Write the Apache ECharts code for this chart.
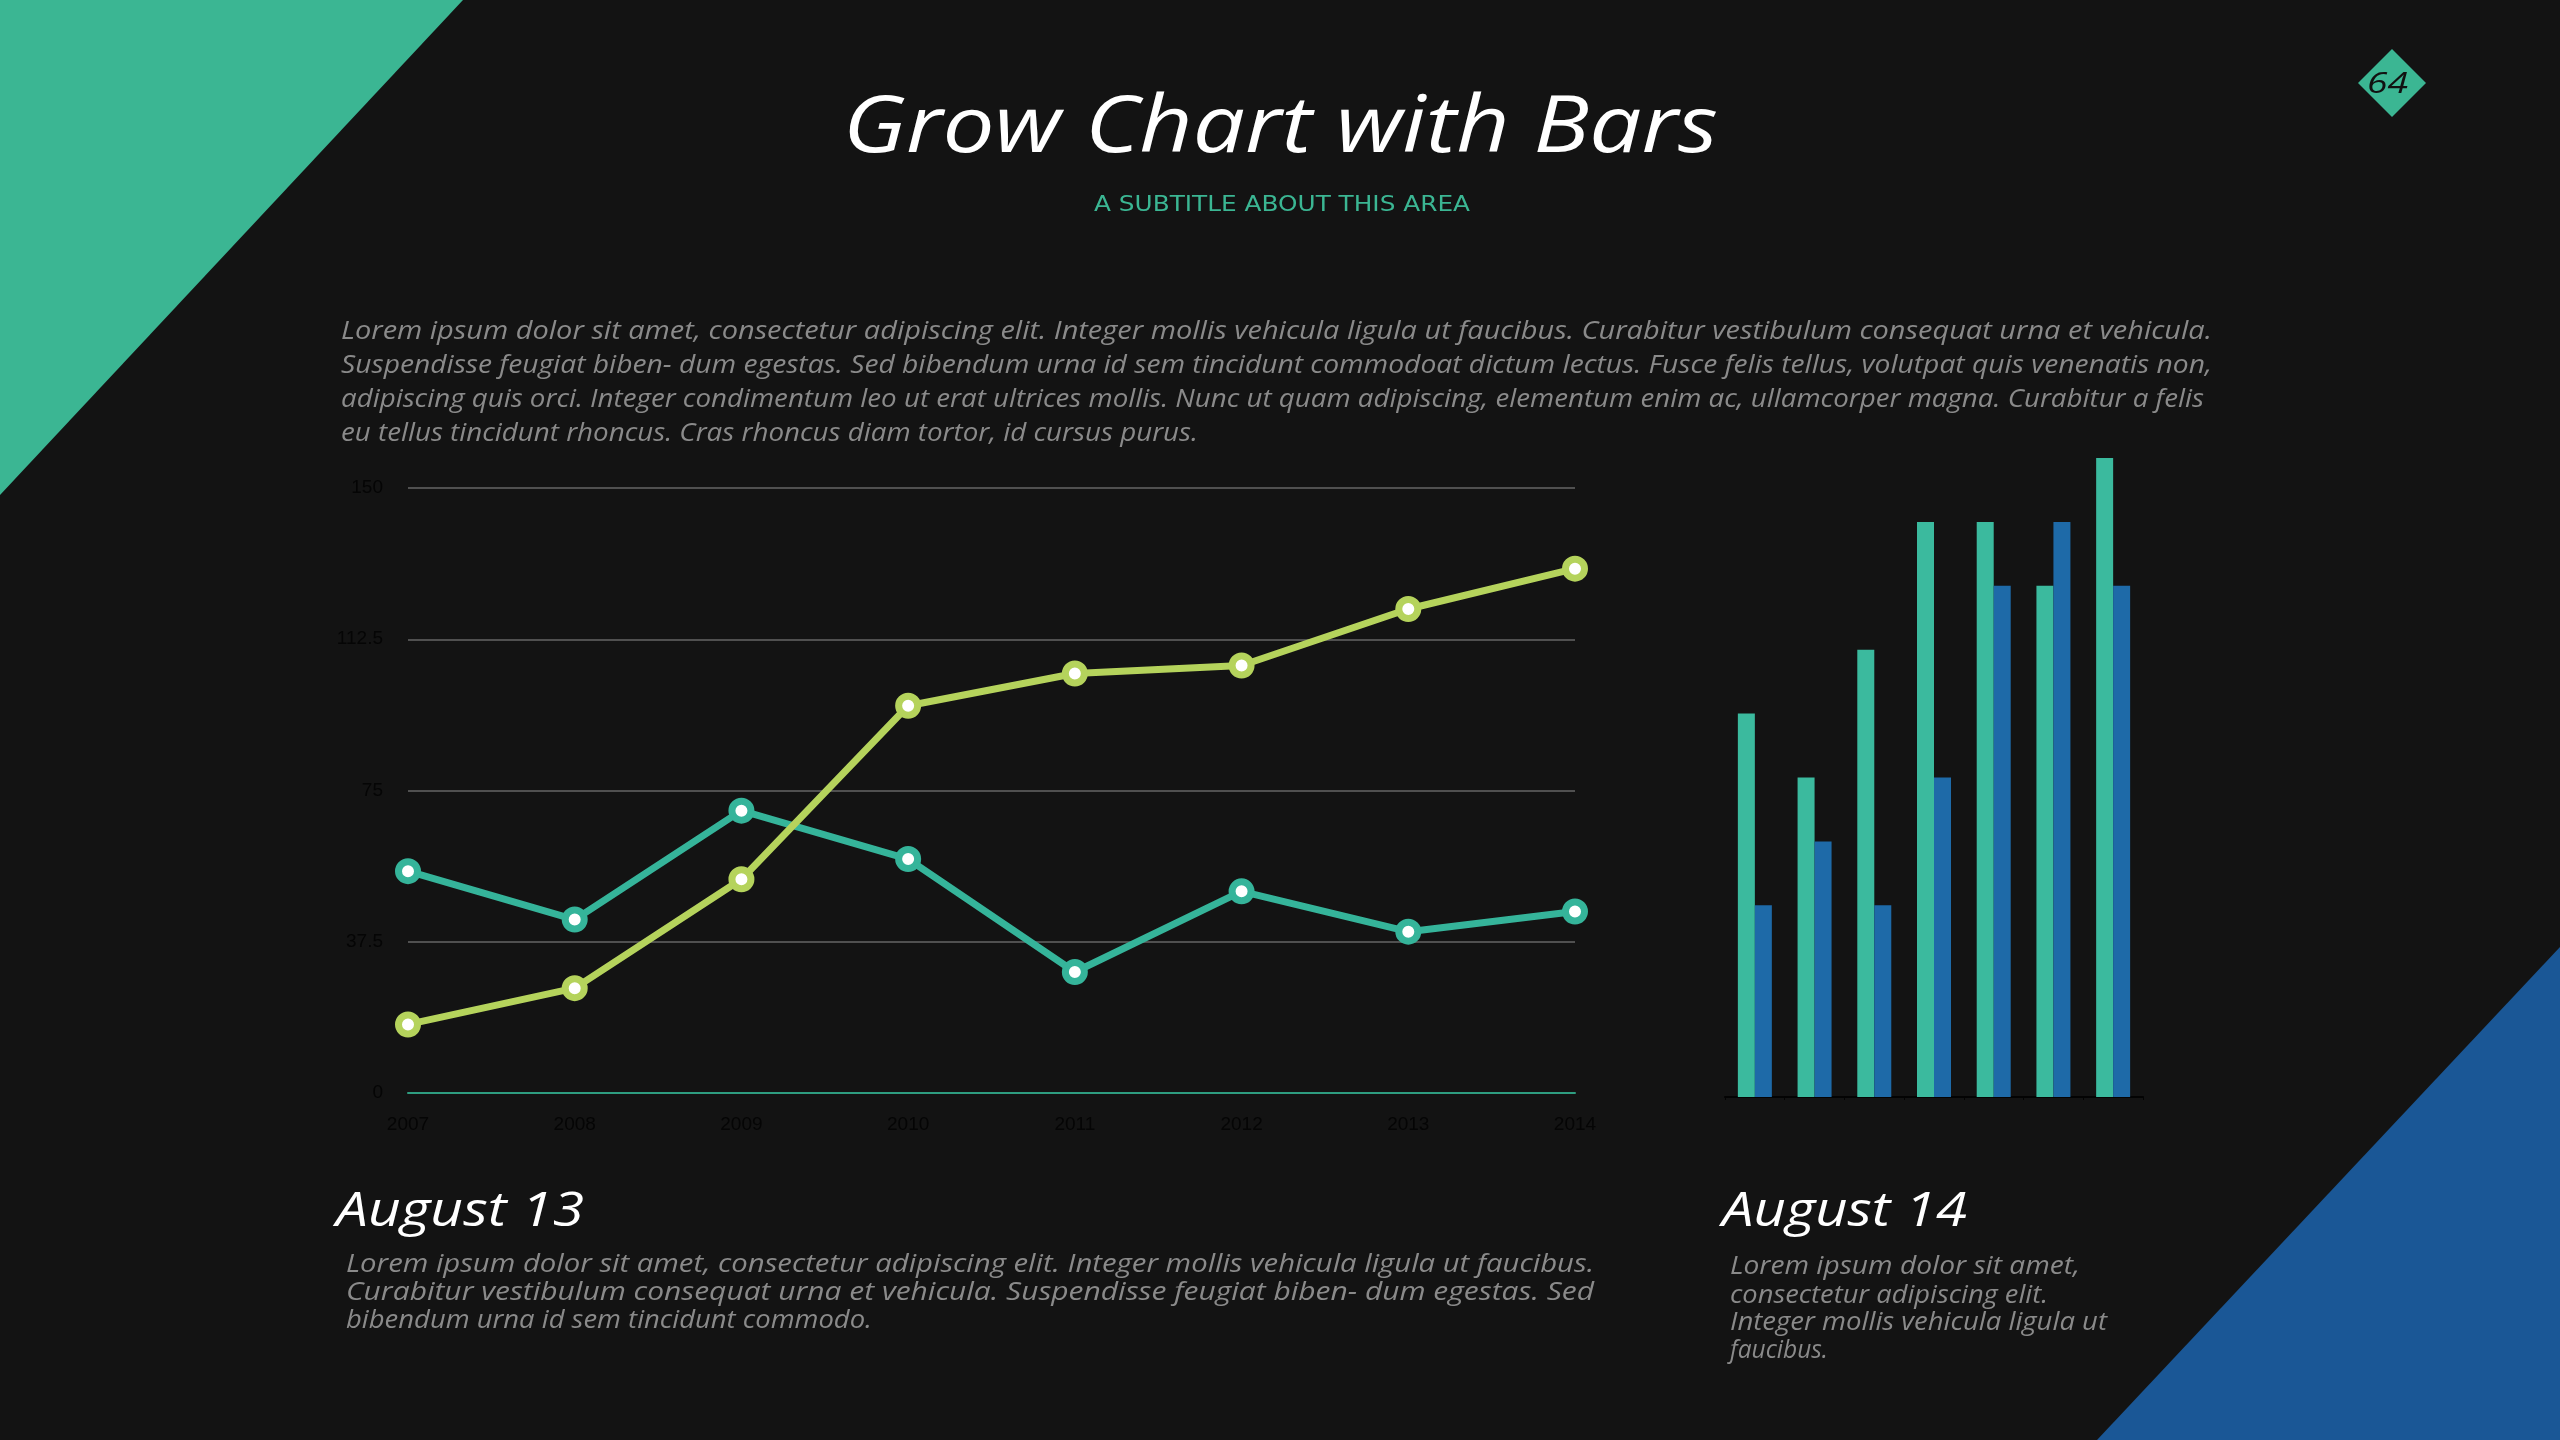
<!DOCTYPE html>
<html>
<head>
<meta charset="utf-8">
<style>
  html, body { margin: 0; padding: 0; background: #131313; }
  #chart { width: 2560px; height: 1440px; }
</style>
<script src="https://cdn.jsdelivr.net/npm/echarts@6/dist/echarts.min.js"></script>
</head>
<body>
<div id="chart"></div>
<script>
// ---- data ----
const years = ['2007', '2008', '2009', '2010', '2011', '2012', '2013', '2014'];
const tealLine = [55, 43, 70, 58, 30, 50, 40, 45];
const limeLine = [17, 26, 53, 96, 104, 106, 120, 130];
const yTicks = [0, 37.5, 75, 112.5, 150];

const barCats = ['A', 'B', 'C', 'D', 'E', 'F', 'G'];
const tealBars = [6, 5, 7, 9, 9, 8, 10];
const blueBars = [3, 4, 3, 5, 8, 9, 8];

const titleText = 'Grow Chart with Bars';
const subtitleText = 'A SUBTITLE ABOUT THIS AREA';
const introLines = [
  'Lorem ipsum dolor sit amet, consectetur adipiscing elit. Integer mollis vehicula ligula ut faucibus. Curabitur vestibulum consequat urna et vehicula.',
  'Suspendisse feugiat biben- dum egestas. Sed bibendum urna id sem tincidunt commodoat dictum lectus. Fusce felis tellus, volutpat quis venenatis non,',
  'adipiscing quis orci. Integer condimentum leo ut erat ultrices mollis. Nunc ut quam adipiscing, elementum enim ac, ullamcorper magna. Curabitur a felis',
  'eu tellus tincidunt rhoncus. Cras rhoncus diam tortor, id cursus purus.'
];
const leftHeading = 'August 13';
const leftLines = [
  'Lorem ipsum dolor sit amet, consectetur adipiscing elit. Integer mollis vehicula ligula ut faucibus.',
  'Curabitur vestibulum consequat urna et vehicula. Suspendisse feugiat biben- dum egestas. Sed',
  'bibendum urna id sem tincidunt commodo.'
];
const rightHeading = 'August 14';
const rightLines = [
  'Lorem ipsum dolor sit amet,',
  'consectetur adipiscing elit.',
  'Integer mollis vehicula ligula ut',
  'faucibus.'
];
const pageNumber = '64';

// ---- styling helpers ----
const TEAL = '#3bb693';
const BLUE_TRI = '#1a5796';
const HAND = "'Segoe Print', 'Open Sans', sans-serif";
const measureCtx = document.createElement('canvas').getContext('2d');
function measure(text, size, family, style, weight) {
  measureCtx.font = (style || 'normal') + ' ' + (weight || 'normal') + ' ' + size + 'px ' + family;
  return measureCtx.measureText(text).width;
}
// text fitted to a target width (horizontal scale only)
function fitText(text, x, y, targetW, size, color, family, opts) {
  opts = opts || {};
  const w = measure(text, size, family, opts.fontStyle, opts.fontWeight);
  const sx = targetW / w;
  return {
    type: 'text', x: x, y: y, scaleX: sx, originX: 0, originY: 0, silent: true,
    style: {
      text: text, fill: color, fontSize: size, fontFamily: family,
      fontStyle: opts.fontStyle || 'normal', fontWeight: opts.fontWeight || 'normal',
      textAlign: opts.align || 'left', textVerticalAlign: 'middle'
    }
  };
}

const graphics = [];
// decorative corner triangles
graphics.push({ type: 'polygon', silent: true, shape: { points: [[0, 0], [463, 0], [0, 495]] }, style: { fill: TEAL } });
graphics.push({ type: 'polygon', silent: true, shape: { points: [[2560, 947], [2560, 1440], [2097, 1440]] }, style: { fill: BLUE_TRI } });
// page badge
graphics.push({ type: 'polygon', silent: true, shape: { points: [[2392, 49], [2426, 83], [2392, 117], [2358, 83]] }, style: { fill: TEAL } });
graphics.push(fitText(pageNumber, 2367, 84, 41, 30, '#111', HAND, { fontStyle: 'italic' }));
// titles
graphics.push(fitText(titleText, 843, 130, 875, 78, '#ffffff', HAND, { fontStyle: 'italic' }));
graphics.push(fitText(subtitleText, 1094, 205, 376, 22, TEAL, "'DejaVu Sans', sans-serif"));
// intro paragraph
const introW = [1871, 1871, 1863, 857];
const introY = [332, 366, 400, 434];
introLines.forEach((t, i) => graphics.push(fitText(t, 341, introY[i], introW[i], 25, '#8a8a8a', HAND, { fontStyle: 'italic' })));
// left block
graphics.push(fitText(leftHeading, 336, 1212, 248, 48, '#ffffff', HAND, { fontStyle: 'italic' }));
const leftW = [1248, 1248, 526];
const leftY = [1265, 1293, 1321];
leftLines.forEach((t, i) => graphics.push(fitText(t, 346, leftY[i], leftW[i], 25, '#8a8a8a', HAND, { fontStyle: 'italic' })));
// right block
graphics.push(fitText(rightHeading, 1722, 1212, 245, 48, '#ffffff', HAND, { fontStyle: 'italic' }));
const rightW = [350, 318, 377, 98];
const rightY = [1267, 1296, 1323, 1351];
rightLines.forEach((t, i) => graphics.push(fitText(t, 1730, rightY[i], rightW[i], 25, '#8a8a8a', HAND, { fontStyle: 'italic' })));

const chart = echarts.init(document.getElementById('chart'), null, { renderer: 'canvas' });
const axisLabelStyle = { color: '#050505', fontSize: 19, fontFamily: "'Liberation Sans Narrow', 'Liberation Sans', Arial, sans-serif" };

chart.setOption({
  backgroundColor: '#131313',
  animation: false,
  graphic: graphics,
  grid: [
    { left: 408, right: 2560 - 1575, top: 488, bottom: 1440 - 1093, containLabel: false },
    { left: 1725, width: 418, top: 458, bottom: 1440 - 1097, containLabel: false }
  ],
  xAxis: [
    {
      type: 'category', gridIndex: 0, data: years, boundaryGap: false,
      axisLine: { show: true, lineStyle: { color: '#2e9d80', width: 2 } },
      axisTick: { show: false },
      axisLabel: Object.assign({ margin: 22 }, axisLabelStyle),
      splitLine: { show: false }
    },
    {
      type: 'category', gridIndex: 1, data: barCats, boundaryGap: true,
      axisLine: { show: true, lineStyle: { color: '#030303', width: 2 } },
      axisTick: { show: true, length: 3, lineStyle: { color: '#030303' } },
      axisLabel: { show: false },
      splitLine: { show: false }
    }
  ],
  yAxis: [
    {
      type: 'value', gridIndex: 0, min: yTicks[0], max: yTicks[yTicks.length - 1], interval: 37.5,
      axisLine: { show: false }, axisTick: { show: false },
      axisLabel: Object.assign({ margin: 25 }, axisLabelStyle),
      splitLine: { show: true, lineStyle: { color: '#505050', width: 2 } }
    },
    {
      type: 'value', gridIndex: 1, min: 0, max: 10,
      axisLine: { show: false }, axisTick: { show: false }, axisLabel: { show: false },
      splitLine: { show: false }
    }
  ],
  series: [
    {
      name: 'Teal', type: 'line', xAxisIndex: 0, yAxisIndex: 0, data: tealLine,
      symbol: 'circle', symbolSize: 19,
      lineStyle: { color: '#35b49a', width: 7 },
      itemStyle: { color: '#ffffff', borderColor: '#35b49a', borderWidth: 7 },
      z: 3
    },
    {
      name: 'Lime', type: 'line', xAxisIndex: 0, yAxisIndex: 0, data: limeLine,
      symbol: 'circle', symbolSize: 19,
      lineStyle: { color: '#b5d35c', width: 7 },
      itemStyle: { color: '#ffffff', borderColor: '#b5d35c', borderWidth: 7 },
      z: 4
    },
    {
      name: 'Bars A', type: 'bar', xAxisIndex: 1, yAxisIndex: 1, data: tealBars,
      barWidth: 17, barGap: '0%',
      itemStyle: { color: '#3bba9e' }
    },
    {
      name: 'Bars B', type: 'bar', xAxisIndex: 1, yAxisIndex: 1, data: blueBars,
      barWidth: 17, barGap: '0%',
      itemStyle: { color: '#1e6aa8' }
    }
  ]
});
</script>
</body>
</html>
